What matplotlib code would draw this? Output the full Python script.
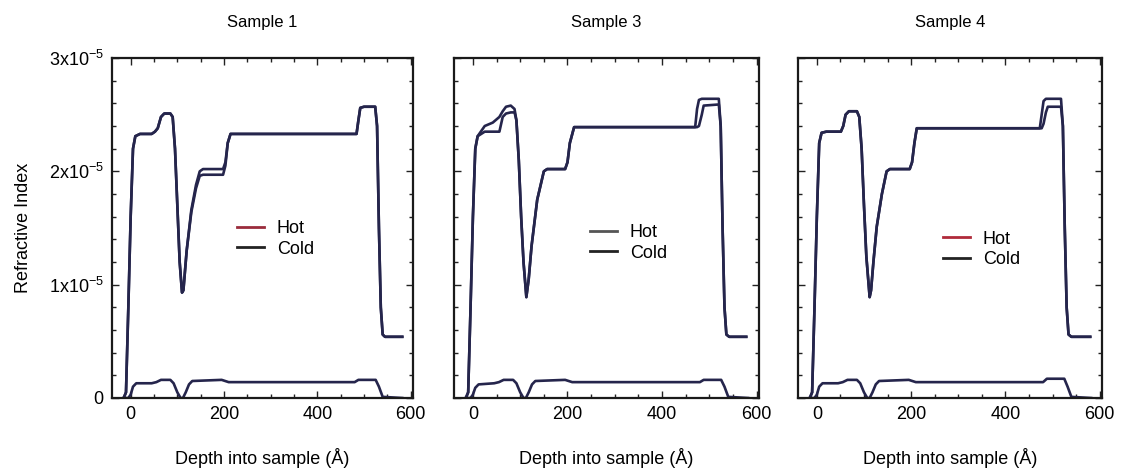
"""
Refractive index depth profiles, hot vs cold, for three samples.
"""
import matplotlib
matplotlib.use('Agg')
import matplotlib.pyplot as plt
from matplotlib import font_manager
from matplotlib.lines import Line2D
from matplotlib.ticker import MultipleLocator, FixedLocator, FixedFormatter

# ---- data (depth in Angstrom, index in units of 1e-5) ----
titles = ['Sample 1', 'Sample 3', 'Sample 4']

s1_depth = [-15, -10, -5, 0, 5, 10, 20, 45, 52, 58, 65, 72, 85, 90, 95, 100, 105, 110, 113,
            120, 130, 140, 148, 155, 198, 203, 208, 214, 220, 484, 488, 492, 500, 524, 528,
            532, 536, 540, 545, 582]
s1_cold = [0.0, 0.05, 0.8, 1.6, 2.2, 2.31, 2.33, 2.33, 2.35, 2.38, 2.48, 2.51, 2.51, 2.48, 2.2,
           1.7, 1.2, 0.93, 0.95, 1.3, 1.66, 1.88, 2.0, 2.02, 2.02, 2.08, 2.25, 2.33, 2.33, 2.33,
           2.45, 2.56, 2.57, 2.57, 2.4, 1.5, 0.8, 0.56, 0.54, 0.54]
s1_hot = [0.0, 0.05, 0.8, 1.6, 2.2, 2.31, 2.33, 2.33, 2.35, 2.38, 2.48, 2.51, 2.51, 2.48, 2.2,
          1.7, 1.2, 0.93, 0.95, 1.3, 1.64, 1.85, 1.96, 1.97, 1.97, 2.05, 2.25, 2.33, 2.33, 2.33,
          2.45, 2.56, 2.57, 2.57, 2.4, 1.5, 0.8, 0.56, 0.54, 0.54]

s3_depth = [-15, -10, -5, 0, 5, 10, 25, 42, 56, 63, 70, 80, 88, 92, 97, 102, 107, 113, 118,
            124, 136, 150, 157, 195, 200, 205, 214, 220, 470, 474, 478, 484, 488, 520, 524,
            528, 532, 536, 542, 578]
s3_hot = [0.0, 0.05, 0.8, 1.6, 2.2, 2.31, 2.40, 2.43, 2.48, 2.53, 2.57, 2.58, 2.55, 2.45, 2.1,
          1.6, 1.2, 0.89, 1.05, 1.34, 1.75, 2.0, 2.02, 2.02, 2.08, 2.25, 2.39, 2.39, 2.39, 2.55,
          2.63, 2.64, 2.64, 2.64, 2.4, 1.5, 0.8, 0.56, 0.54, 0.54]
s3_cold = [0.0, 0.05, 0.8, 1.6, 2.2, 2.31, 2.35, 2.35, 2.35, 2.48, 2.51, 2.52, 2.52, 2.45, 2.1,
           1.6, 1.2, 0.89, 1.05, 1.34, 1.75, 2.0, 2.02, 2.02, 2.08, 2.25, 2.39, 2.39, 2.39, 2.39,
           2.40, 2.50, 2.58, 2.59, 2.4, 1.5, 0.8, 0.56, 0.54, 0.54]

s4_depth = [-15, -10, -5, 0, 5, 10, 20, 51, 56, 61, 68, 85, 90, 95, 100, 105, 112, 115, 120,
            127, 138, 148, 155, 197, 202, 207, 212, 220, 473, 477, 481, 486, 490, 518, 522,
            526, 530, 534, 540, 580]
s4_hot = [0.0, 0.05, 0.8, 1.6, 2.25, 2.34, 2.35, 2.35, 2.40, 2.50, 2.53, 2.53, 2.48, 2.2, 1.7,
          1.25, 0.89, 0.95, 1.2, 1.51, 1.8, 2.0, 2.02, 2.02, 2.08, 2.25, 2.38, 2.38, 2.38, 2.50,
          2.62, 2.64, 2.64, 2.64, 2.4, 1.5, 0.8, 0.56, 0.54, 0.54]
s4_cold = [0.0, 0.05, 0.8, 1.6, 2.25, 2.34, 2.35, 2.35, 2.40, 2.50, 2.53, 2.53, 2.48, 2.2, 1.7,
           1.25, 0.89, 0.95, 1.2, 1.51, 1.8, 2.0, 2.02, 2.02, 2.08, 2.25, 2.38, 2.38, 2.38, 2.38,
           2.42, 2.52, 2.57, 2.57, 2.4, 1.5, 0.8, 0.56, 0.54, 0.54]

# absorptive (lower) profile, near identical hot/cold
im_depth = [-15, -5, 0, 5, 12, 45, 55, 65, 85, 92, 100, 107, 112, 118, 125, 132, 195, 210,
            480, 488, 525, 532, 540, 582]
s1_im = [0.0, 0.0, 0.03, 0.10, 0.13, 0.13, 0.14, 0.16, 0.16, 0.13, 0.05, 0.0, 0.0, 0.05, 0.12,
         0.15, 0.16, 0.14, 0.14, 0.16, 0.16, 0.10, 0.01, 0.0]
s3_im = [0.0, 0.0, 0.03, 0.09, 0.12, 0.13, 0.14, 0.16, 0.16, 0.13, 0.05, 0.0, 0.0, 0.05, 0.12,
         0.15, 0.16, 0.14, 0.14, 0.16, 0.16, 0.10, 0.01, 0.0]
s4_im = [0.0, 0.0, 0.03, 0.10, 0.13, 0.13, 0.14, 0.16, 0.16, 0.13, 0.05, 0.0, 0.0, 0.05, 0.12,
         0.15, 0.16, 0.14, 0.14, 0.17, 0.17, 0.10, 0.01, 0.0]

panels = [
    (s1_depth, s1_hot, s1_cold, s1_im),
    (s3_depth, s3_hot, s3_cold, s3_im),
    (s4_depth, s4_hot, s4_cold, s4_im),
]

# legend swatch colours as they appear on each panel
hot_swatch = ['#9a2c3c', '#555555', '#b02a3a']
legend_pos = [(0.415, 0.468), (0.446, 0.456), (0.477, 0.437)]

# ---- fonts ----
names = {f.name for f in font_manager.fontManager.ttflist}
plt.rcParams['font.family'] = ['Liberation Sans', 'DejaVu Sans']
title_font = 'Liberation Sans Narrow' if 'Liberation Sans Narrow' in names else 'Liberation Sans'

line_col = '#25254c'

fig = plt.figure(figsize=(11.28, 4.68), dpi=100)
lefts = [112, 454, 798]
widths = [301, 305, 304]

for i, (depth, hot, cold, im) in enumerate(panels):
    ax = fig.add_axes([lefts[i] / 1128, 70 / 468, widths[i] / 1128, 340 / 468])
    ax.plot(depth, hot, color=line_col, lw=1.9, solid_joinstyle='round')
    ax.plot(depth, cold, color=line_col, lw=1.9, solid_joinstyle='round')
    ax.plot(im_depth, im, color=line_col, lw=1.9, solid_joinstyle='round')

    ax.set_xlim(-40, 605)
    ax.set_ylim(0, 3.0)
    ax.xaxis.set_major_locator(FixedLocator([0, 200, 400, 600]))
    ax.xaxis.set_minor_locator(MultipleLocator(50))
    ax.yaxis.set_major_locator(FixedLocator([0, 1, 2, 3]))
    ax.yaxis.set_minor_locator(MultipleLocator(0.2))
    if i == 0:
        ax.yaxis.set_major_formatter(FixedFormatter(
            ['0', r'$\mathregular{1x10^{-5}}$', r'$\mathregular{2x10^{-5}}$',
             r'$\mathregular{3x10^{-5}}$']))
        ax.set_ylabel('Refractive Index', fontsize=13, labelpad=12)
    else:
        ax.set_yticklabels([])

    ax.tick_params(which='both', direction='in', top=True, right=True, width=1.0,
                   labelsize=13, pad=6, color='#222222')
    ax.tick_params(which='major', length=5)
    ax.tick_params(which='minor', length=3)
    for sp in ax.spines.values():
        sp.set_linewidth(1.6)
        sp.set_color('#1a1a1a')

    ax.set_xlabel('Depth into sample (Å)', fontsize=13, labelpad=18)
    ax.set_title(titles[i], fontsize=12, family=title_font, pad=22)

    handles = [Line2D([], [], color=hot_swatch[i], lw=2),
               Line2D([], [], color='#222222', lw=2)]
    ax.legend(handles, ['Hot', 'Cold'], loc='center left', bbox_to_anchor=legend_pos[i],
              frameon=False, fontsize=13, handlelength=1.5, handletextpad=0.7,
              labelspacing=0.2, borderpad=0, borderaxespad=0)

fig.savefig('out.png', dpi=100, facecolor='white')
